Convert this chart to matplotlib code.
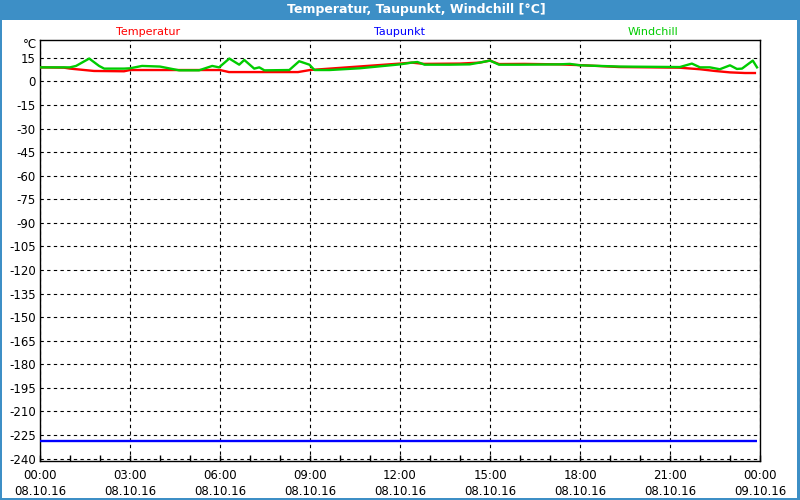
import matplotlib
matplotlib.use("Agg")
import matplotlib.pyplot as plt
from matplotlib.patches import Rectangle

# ---- data (hours since 08.10.16 00:00) ----
temp_t = [0, 0.8, 1.0, 1.8, 2.8, 3.0, 6.0, 6.3, 8.6, 9.0, 12.0, 12.4, 12.8, 14.0,
          14.65, 15.0, 15.3, 16.15, 17.3, 18.15, 19.3, 21.3, 22.0, 22.5, 23.0, 23.5, 23.83]
temp_v = [8.9, 8.7, 8.1, 6.6, 6.4, 7.2, 7.2, 5.9, 5.9, 7.2, 11.3, 11.9, 11.1, 11.3,
          11.9, 13.2, 11.0, 11.1, 10.8, 10.2, 9.1, 8.7, 7.7, 6.6, 5.7, 5.3, 5.3]

wind_t = [0, 1.0, 1.2, 1.64, 1.97, 2.14, 2.8, 3.0, 3.4, 4.0, 4.64, 5.3, 5.74, 5.97,
          6.31, 6.64, 6.81, 7.14, 7.31, 7.48, 8.31, 8.64, 8.98, 9.15, 9.65, 10.65,
          12.0, 12.38, 12.58, 12.82, 13.65, 14.32, 14.65, 15.0, 15.3, 16.0, 17.3,
          17.66, 18.0, 19.33, 21.33, 21.73, 22.0, 22.33, 22.66, 23.0, 23.23, 23.4,
          23.76, 23.9]
wind_v = [8.9, 8.9, 9.8, 14.5, 9.8, 8.1, 8.1, 8.3, 9.8, 9.4, 7.0, 7.0, 9.8, 8.9,
          14.5, 10.6, 13.6, 8.1, 8.9, 7.0, 7.2, 12.8, 10.6, 7.2, 7.2, 8.3,
          10.8, 11.9, 12.3, 10.6, 10.6, 10.8, 11.9, 13.2, 10.6, 10.6, 10.8,
          11.1, 10.2, 9.4, 9.1, 11.3, 8.9, 8.9, 7.7, 10.2, 7.9, 8.1,
          13.2, 8.9]

dew_t = [0, 23.9]
dew_v = [-229, -229]

x_ticks = [0, 3, 6, 9, 12, 15, 18, 21, 24]
x_labels = ["00:00\n08.10.16", "03:00\n08.10.16", "06:00\n08.10.16", "09:00\n08.10.16",
            "12:00\n08.10.16", "15:00\n08.10.16", "18:00\n08.10.16", "21:00\n08.10.16",
            "00:00\n09.10.16"]
y_ticks = list(range(-240, 16, 15))

title = "Temperatur, Taupunkt, Windchill [°C]"
series_names = ["Temperatur", "Taupunkt", "Windchill"]
series_colors = ["#ff0000", "#0000ff", "#00cc00"]

W, H = 800, 500
fig = plt.figure(figsize=(8, 5), dpi=100, facecolor="white")
border = "#3d8fc6"

def px_rect(x, y, w, h, color):
    fig.patches.append(Rectangle((x / W, 1 - (y + h) / H), w / W, h / H,
                                 transform=fig.transFigure, facecolor=color,
                                 edgecolor="none", zorder=0))

px_rect(0, 0, W, 20, border)        # title bar
px_rect(0, 0, 2, H, border)          # left
px_rect(W - 3, 0, 3, H, border)      # right
px_rect(0, H - 2, W, 2, border)      # bottom

fig.text(416 / W, 1 - 10 / H, title, color="white", fontsize=9, fontweight="bold",
         ha="center", va="center")
for name, col, xc in zip(series_names, series_colors, [148, 399, 653]):
    fig.text(xc / W, 1 - 32 / H, name, color=col, fontsize=8, ha="center", va="center")
fig.text(37 / W, 1 - 45 / H, "°C", fontsize=8.5, ha="right", va="center")

ax = fig.add_axes([40 / W, 39 / H, 720 / W, 421 / H])
ax.set_facecolor("white")
ax.set_xlim(0, 24)
ax.set_ylim(-241.5, 26.3)

ax.plot(dew_t, dew_v, color=series_colors[1], lw=1.7, solid_capstyle="butt", zorder=3)
ax.plot(temp_t, temp_v, color=series_colors[0], lw=1.7, zorder=3)
ax.plot(wind_t, wind_v, color=series_colors[2], lw=1.7, zorder=4)

ax.set_xticks(x_ticks)
ax.set_xticklabels(x_labels, fontsize=8.5, linespacing=1.3)
ax.set_xticks(range(0, 25), minor=True)
ax.set_yticks(y_ticks)
ax.set_yticklabels([str(v) for v in y_ticks], fontsize=8.5)
ax.tick_params(axis="y", length=0, pad=3)
ax.tick_params(axis="x", which="both", direction="in", length=4, width=1, pad=6)

ax.grid(True, which="major", color="black", lw=0.8, linestyle=(0, (3, 3)))
for s in ax.spines.values():
    s.set_color("black")
    s.set_linewidth(1)

fig.savefig("out.png", dpi=100, facecolor="white")
